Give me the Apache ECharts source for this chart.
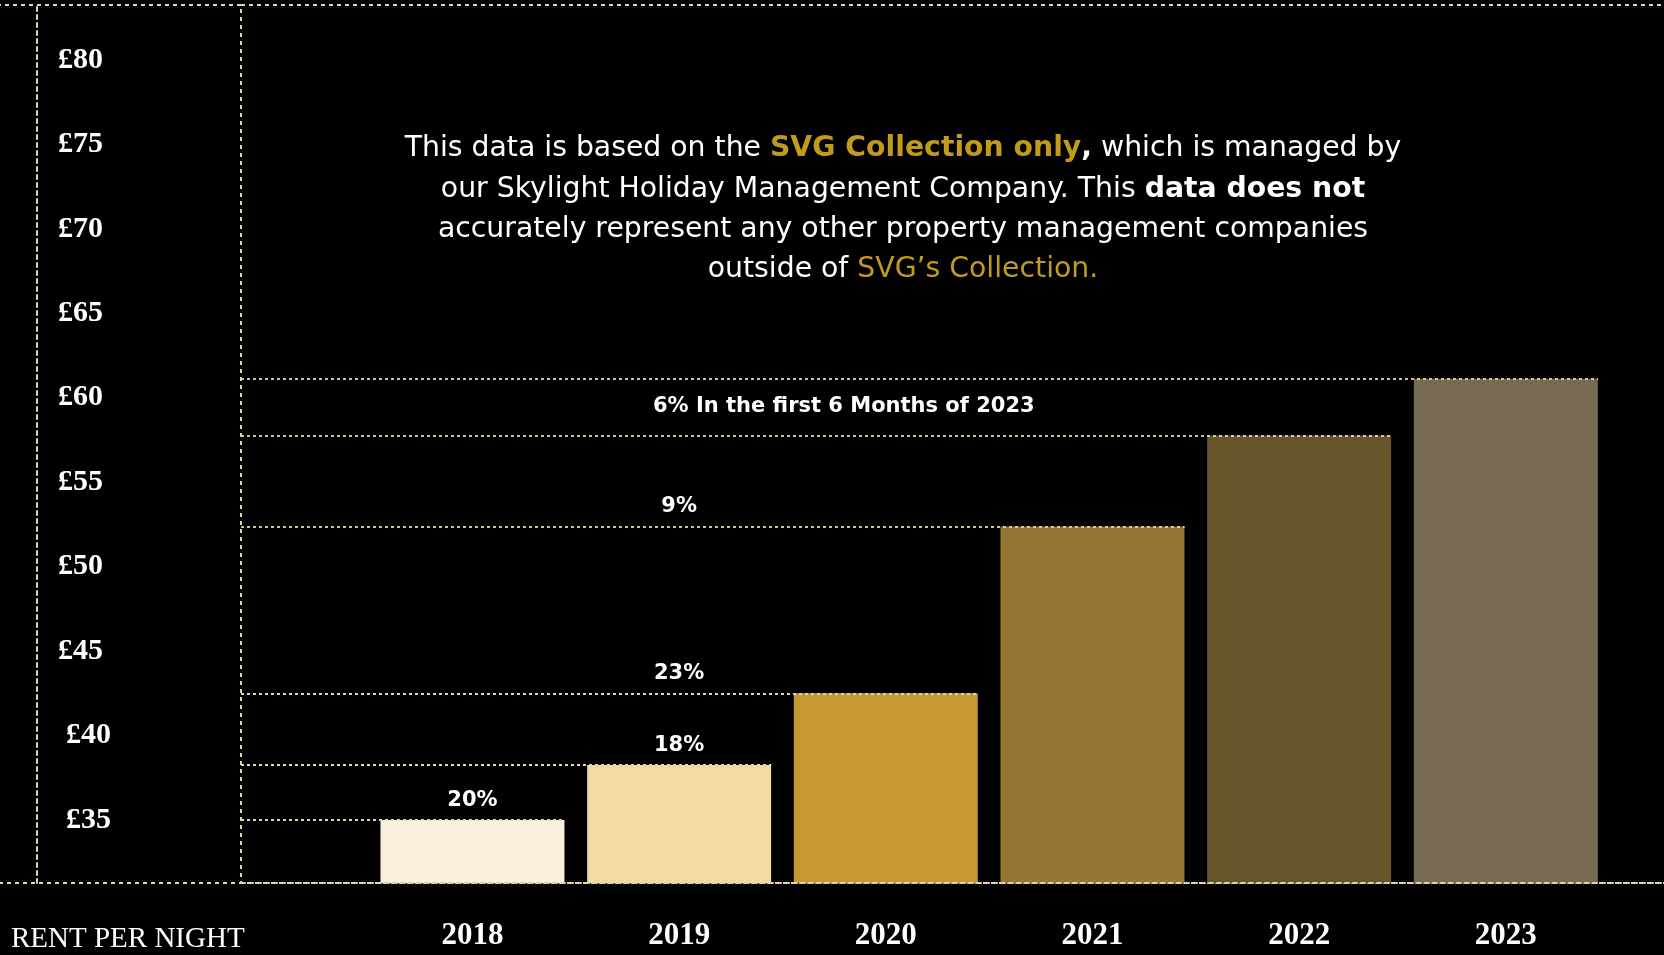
<!DOCTYPE html>
<html>
<head>
<meta charset="utf-8">
<script src="https://cdn.jsdelivr.net/npm/echarts@6/dist/echarts.min.js"></script>
<style>
html,body{margin:0;padding:0;background:#000;}
#main{width:1664px;height:955px;}
</style>
</head>
<body>
<div id="main"></div>
<script>
// ---- data ----
const categories = ['2018', '2019', '2020', '2021', '2022', '2023'];
const rentValues = [35, 38.26, 42.5, 52.38, 57.76, 61.12];
const yTicks = [35, 40, 45, 50, 55, 60, 65, 70, 75, 80];
const growthLabels = ['20%', '18%', '23%', '9%', '6% In the first 6 Months of 2023'];
const axisTitle = 'RENT PER NIGHT';

// ---- layout / style ----
const Y_MIN = 31.27, Y_MAX = 83.25;
const X_MIN = -1.12, X_MAX = 5.78;
const BAR_HALF = 0.4455;
const growthAnchorX = [0, 1, 1, 1, 1.797];
const growthDist = [9, 9, 9, 9, 19];
const barColors = ['#f9f0dc', '#f3d9a4', '#c69a33', '#957632', '#66542b', '#776a50'];
const CREAM = '#dfd5b0';
const GOLD = '#c29b1c';
const SANS = "'DejaVu Sans', 'Noto Sans', sans-serif";
const SERIF = "'Liberation Serif', 'DejaVu Serif', serif";
const PARA_SIZE = 28.3;

const chart = echarts.init(document.getElementById('main'));

const dashLine = { color: CREAM, type: [4, 4], width: 2 };

const paraRich = {
  n: { fill: '#ffffff', fontSize: PARA_SIZE, fontFamily: SANS },
  g: { fill: GOLD, fontSize: PARA_SIZE, fontFamily: SANS, fontWeight: 'bold' },
  b: { fill: '#ffffff', fontSize: PARA_SIZE, fontFamily: SANS, fontWeight: 'bold' },
  gl: { fill: GOLD, fontSize: PARA_SIZE, fontFamily: SANS }
};
const paraLines = [
  '{n|This data is based on the }{g|SVG Collection only}{b|,}{n| which is managed by}',
  '{n|our Skylight Holiday Management Company. This }{b|data does not}',
  '{n|accurately represent any other property management companies}',
  '{n|outside of }{gl|SVG\u2019s Collection.}'
];
const paraY = [149, 190, 230, 270];

const option = {
  backgroundColor: '#000000',
  animation: false,
  grid: [
    { left: -3, right: 1423, top: 5, bottom: 72, show: true, borderColor: CREAM, borderWidth: 2, borderType: [4, 4], outerBoundsMode: 'none', containLabel: false },
    { left: 241, right: -3, top: 5, bottom: 72, show: true, borderColor: CREAM, borderWidth: 2, borderType: [4, 4], outerBoundsMode: 'none', containLabel: false }
  ],
  xAxis: [
    { gridIndex: 0, type: 'value', min: 0, max: 1, show: false },
    {
      gridIndex: 1, type: 'value', min: X_MIN, max: X_MAX, z: 3,
      axisLine: { show: true, lineStyle: dashLine },
      axisTick: { show: false },
      splitLine: { show: false },
      axisLabel: {
        customValues: categories.map((c, i) => i),
        formatter: v => categories[Math.round(v)] || '',
        color: '#ffffff', fontFamily: SERIF, fontWeight: 'bold', fontSize: 31, margin: 37
      }
    }
  ],
  yAxis: [
    {
      gridIndex: 0, type: 'value', min: Y_MIN, max: Y_MAX, offset: -40,
      axisLine: { show: true, lineStyle: dashLine },
      axisTick: { show: false },
      splitLine: { show: false },
      axisLabel: {
        inside: true, margin: 21,
        customValues: yTicks,
        formatter: v => (v <= 40 ? '{s|\u00a3' + v + '}' : '{a|\u00a3' + v + '}'),
        rich: {
          a: { color: '#ffffff', fontFamily: SERIF, fontWeight: 'bold', fontSize: 30 },
          s: { color: '#ffffff', fontFamily: SERIF, fontWeight: 'bold', fontSize: 30, padding: [0, 0, 0, 8] }
        }
      }
    },
    { gridIndex: 1, type: 'value', min: Y_MIN, max: Y_MAX, show: false }
  ],
  series: [
    {
      type: 'bar', xAxisIndex: 1, yAxisIndex: 1, barWidth: 184, silent: true,
      data: rentValues.map((v, i) => ({ value: [i, v], itemStyle: { color: barColors[i] } })),
      markLine: {
        silent: true, symbol: 'none', z: 5,
        lineStyle: { color: CREAM, type: [3, 3], width: 1.8 },
        label: { show: false },
        emphasis: { disabled: true },
        data: rentValues.map((v, i) => [{ coord: [X_MIN, v] }, { coord: [i + BAR_HALF, v] }])
      }
    },
    {
      type: 'scatter', xAxisIndex: 1, yAxisIndex: 1, symbolSize: 0, silent: true, z: 6,
      itemStyle: { opacity: 1 },
      data: growthLabels.map((t, i) => ({ value: [growthAnchorX[i], rentValues[i]], label: { distance: growthDist[i] } })),
      label: {
        show: true, position: 'top',
        formatter: p => growthLabels[p.dataIndex],
        color: '#ffffff', fontFamily: SANS, fontWeight: 'bold', fontSize: 21
      }
    }
  ],
  graphic: paraLines.map((t, i) => ({
    type: 'text', x: 903, y: paraY[i], silent: true,
    style: { text: t, rich: paraRich, fill: '#ffffff', fontSize: PARA_SIZE, fontFamily: SANS, align: 'center', verticalAlign: 'middle' }
  })).concat([{
    type: 'text', x: 11, y: 939, silent: true,
    style: { text: axisTitle, fill: '#ffffff', fontSize: 29, fontFamily: SERIF, align: 'left', verticalAlign: 'middle' }
  }])
};
chart.setOption(option);
</script>
</body>
</html>
